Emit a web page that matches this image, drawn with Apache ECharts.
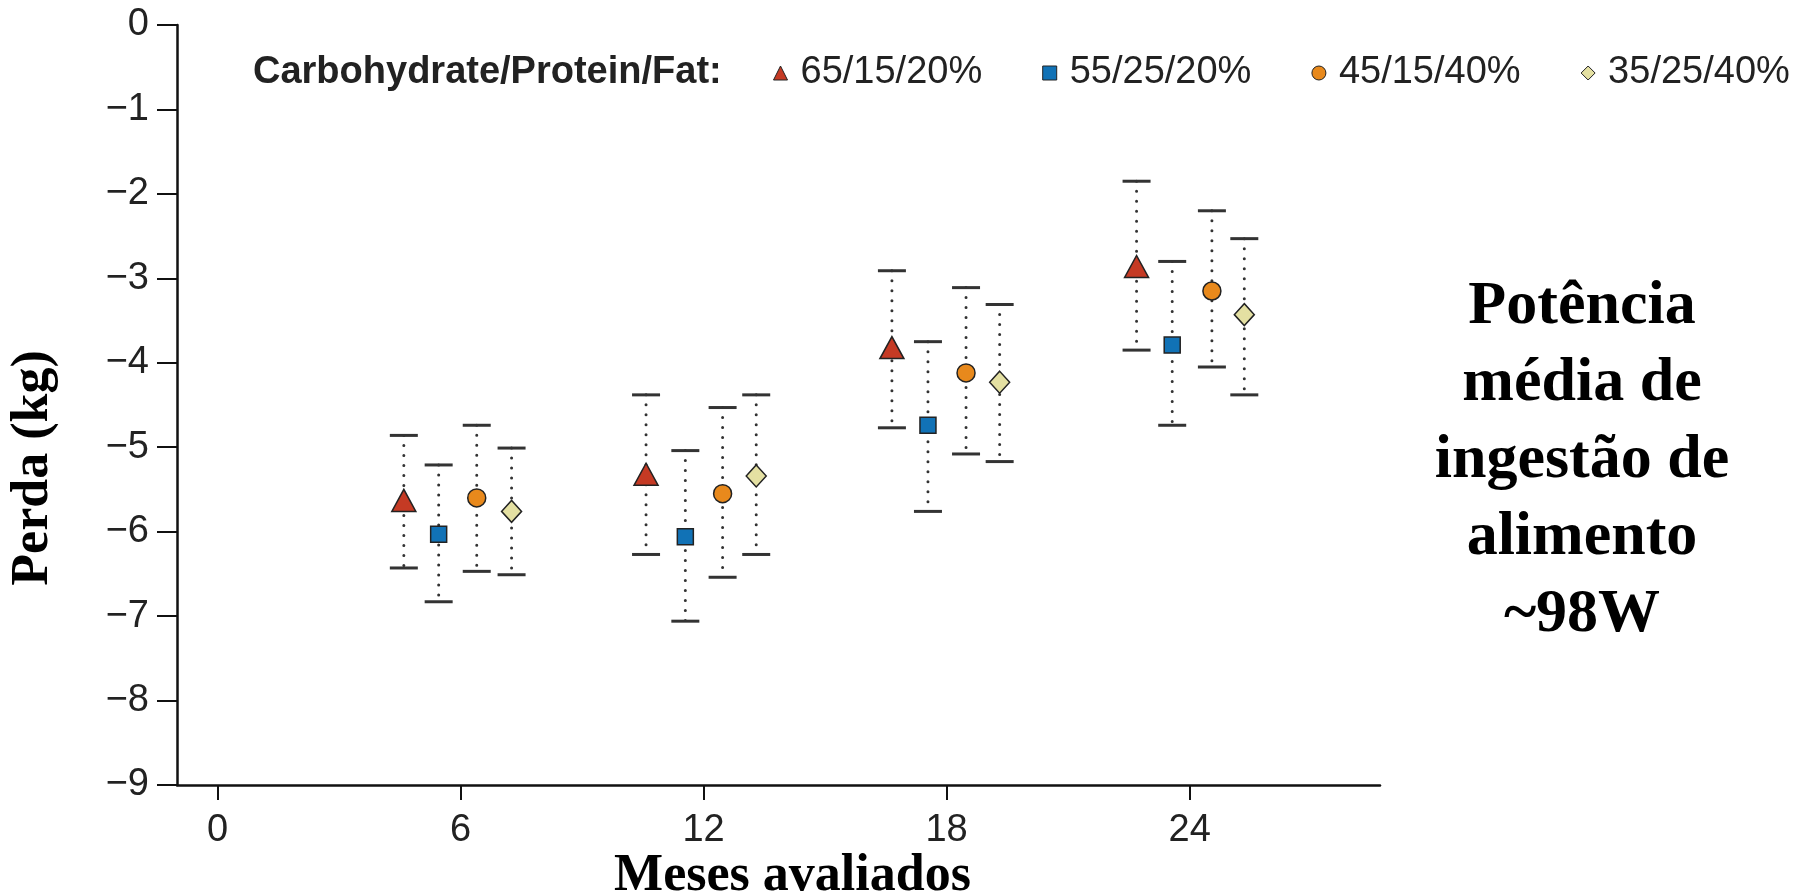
<!DOCTYPE html>
<html>
<head>
<meta charset="utf-8">
<script src="https://cdn.jsdelivr.net/npm/echarts@6/dist/echarts.min.js"></script>
<style>
html, body { margin: 0; padding: 0; background: #fff; }
#chart { width: 1818px; height: 893px; }
</style>
</head>
<body>
<div id="chart"></div>
<script>
// x positions (months, slightly offset per diet group)
var monthTicks = [0, 6, 12, 18, 24];
var names = ['65/15/20%', '55/25/20%', '45/15/40%', '35/25/40%'];

var triX = [4.60, 10.58, 16.65, 22.69];
var triMean = [-5.63, -5.32, -3.82, -2.86];
var triLow = [-6.43, -6.27, -4.77, -3.85];
var triHigh = [-4.86, -4.38, -2.91, -1.85];

var sqX = [5.46, 11.55, 17.54, 23.57];
var sqMean = [-6.03, -6.06, -4.74, -3.79];
var sqLow = [-6.83, -7.06, -5.76, -4.74];
var sqHigh = [-5.21, -5.04, -3.75, -2.80];

var cirX = [6.40, 12.47, 18.48, 24.55];
var cirMean = [-5.60, -5.55, -4.12, -3.15];
var cirLow = [-6.47, -6.54, -5.08, -4.05];
var cirHigh = [-4.74, -4.53, -3.11, -2.20];

var diaX = [7.26, 13.30, 19.31, 25.35];
var diaMean = [-5.76, -5.34, -4.23, -3.43];
var diaLow = [-6.51, -6.27, -5.17, -4.38];
var diaHigh = [-5.01, -4.38, -3.31, -2.53];

var colors = ['#c53a24', '#1172b6', '#e8891c', '#e4e0a2'];
var symbols = ['triangle', 'rect', 'circle', 'diamond'];
var sizes = [[24, 22], [16, 16], [18, 18], [20, 22]];

var groups = [
    [triX, triMean, triLow, triHigh],
    [sqX, sqMean, sqLow, sqHigh],
    [cirX, cirMean, cirLow, cirHigh],
    [diaX, diaMean, diaLow, diaHigh]
];

function zip2(a, b) {
    var out = [];
    for (var i = 0; i < a.length; i++) out.push([a[i], b[i]]);
    return out;
}
function zip3(a, b, c) {
    var out = [];
    for (var i = 0; i < a.length; i++) out.push([a[i], b[i], c[i]]);
    return out;
}

// dotted whisker with solid caps
function renderBar(params, api) {
    var x = api.value(0);
    var top = api.coord([x, api.value(2)]);
    var bot = api.coord([x, api.value(1)]);
    var half = 14;
    var ink = '#333';
    return {
        type: 'group',
        children: [
            {type: 'line', shape: {x1: top[0], y1: top[1], x2: bot[0], y2: bot[1]},
             style: {stroke: ink, lineWidth: 3, lineDash: [0, 10], lineCap: 'round'}},
            {type: 'line', shape: {x1: top[0] - half, y1: top[1], x2: top[0] + half, y2: top[1]},
             style: {stroke: ink, lineWidth: 3}},
            {type: 'line', shape: {x1: bot[0] - half, y1: bot[1], x2: bot[0] + half, y2: bot[1]},
             style: {stroke: ink, lineWidth: 3}}
        ]
    };
}

var series = [];
var legendData = [];
for (var g = 0; g < groups.length; g++) {
    series.push({
        name: names[g],
        type: 'custom',
        renderItem: renderBar,
        encode: {x: 0, y: [1, 2]},
        data: zip3(groups[g][0], groups[g][2], groups[g][3]),
        z: 1,
        silent: true
    });
    series.push({
        name: names[g],
        type: 'scatter',
        symbol: symbols[g],
        symbolSize: sizes[g],
        itemStyle: {color: colors[g], borderColor: '#222', borderWidth: 1.5, opacity: 1},
        data: zip2(groups[g][0], groups[g][1]),
        z: 3
    });
    legendData.push({
        name: names[g],
        icon: symbols[g],
        itemStyle: {color: colors[g], borderColor: '#222', borderWidth: 1}
    });
}

var axisFont = 'Liberation Sans';
var serif = 'Liberation Serif';

var myChart = echarts.init(document.getElementById('chart'));
var option = {
    backgroundColor: '#fff',
    animation: false,
    grid: {left: 177, right: 438, top: 25, bottom: 108, outerBoundsMode: 'none', containLabel: false},
    legend: {
        data: legendData,
        left: 773,
        top: 54,
        width: 1040,
        padding: 0,
        itemWidth: 14,
        itemHeight: 14,
        itemGap: 60,
        textStyle: {fontFamily: axisFont, fontSize: 38, color: '#222', padding: [0, 0, 0, 8]}
    },
    xAxis: {
        type: 'value',
        min: -1,
        max: 28.7,
        name: 'Meses avaliados',
        nameLocation: 'middle',
        nameGap: 66,
        nameMoveOverlap: false,
        nameTextStyle: {fontFamily: serif, fontWeight: 'bold', fontSize: 52, color: '#000',
                        padding: [0, 0, 0, 28], verticalAlign: 'top'},
        axisLine: {onZero: false, lineStyle: {color: '#111', width: 2.5}},
        axisTick: {show: true, length: 15, customValues: monthTicks,
                   lineStyle: {color: '#111', width: 2}},
        axisLabel: {customValues: monthTicks, margin: 27, fontFamily: axisFont,
                    fontSize: 38, color: '#222'},
        splitLine: {show: false}
    },
    yAxis: {
        type: 'value',
        min: -9,
        max: 0,
        interval: 1,
        name: 'Perda (kg)',
        nameLocation: 'middle',
        nameGap: 117,
        nameRotate: 90,
        nameMoveOverlap: false,
        nameTextStyle: {fontFamily: serif, fontWeight: 'bold', fontSize: 52, color: '#000',
                        padding: [0, 126, 0, 0]},
        axisLine: {show: true, onZero: false, lineStyle: {color: '#111', width: 2.5}},
        axisTick: {show: true, length: 20, lineStyle: {color: '#111', width: 2}},
        axisLabel: {margin: 28, fontFamily: axisFont, fontSize: 38, color: '#222',
                    formatter: function (v) { return v < 0 ? '\u2212' + Math.abs(v) : String(v); }},
        splitLine: {show: false}
    },
    graphic: [
        {
            type: 'text',
            left: 253,
            top: 54,
            style: {text: 'Carbohydrate/Protein/Fat:', fontFamily: axisFont, fontWeight: 'bold',
                    fontSize: 38, fill: '#222'}
        },
        {
            type: 'text',
            x: 1582,
            y: 461,
            style: {
                text: 'Potência\nmédia de\ningestão de\nalimento\n~98W',
                fontFamily: serif, fontWeight: 'bold', fontSize: 62, lineHeight: 77,
                fill: '#000', align: 'center', verticalAlign: 'middle'
            }
        }
    ],
    series: series
};
myChart.setOption(option);
</script>
</body>
</html>
